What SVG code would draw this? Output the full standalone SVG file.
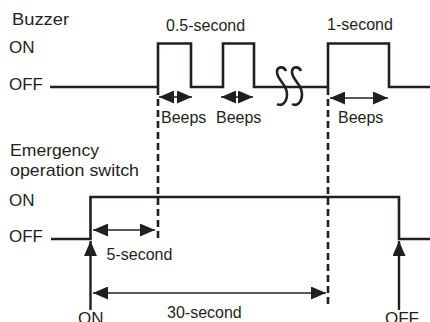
<svg xmlns="http://www.w3.org/2000/svg" width="430" height="322" viewBox="0 0 430 322">
<style>
text{font-family:"Liberation Sans",Arial,sans-serif;fill:#231f20}
.lab{font-size:17px}
.sm{font-size:16px}
.sig{fill:none;stroke:#231f20;stroke-width:2.6}
.dash{fill:none;stroke:#231f20;stroke-width:2.6;stroke-dasharray:7,4}
.thin{fill:none;stroke:#231f20;stroke-width:1.3}
.thick{fill:none;stroke:#231f20;stroke-width:2.4}
</style>
<defs>
<marker id="ah" viewBox="0 0 15 13" refX="15" refY="6.5" markerWidth="15" markerHeight="13" markerUnits="userSpaceOnUse" orient="auto-start-reverse">
<path d="M0,0 L15,6.5 L0,13 Z" fill="#231f20"/>
</marker>
</defs>
<rect width="430" height="322" fill="#fff"/>
<g id="buzzer">
<text class="lab" x="12" y="25" textLength="57" lengthAdjust="spacingAndGlyphs">Buzzer</text>
<text class="lab" x="9" y="53">ON</text>
<text class="lab" x="9" y="90">OFF</text>
<path class="sig" d="M50,87 H158 V43.5 H191 V87 H223 V43.5 H254 V87 H328 V43.5 H389 V87 H430"/>
<path class="sig" d="M286,71 C284,66 277,66 277,72 C277,80 287,84 287,94 C287,102 282,107 277,104"/>
<path class="sig" d="M301,71 C299,66 292,66 292,72 C292,80 302,84 302,94 C302,102 297,107 292,104"/>
<text class="sm" x="166" y="31">0.5-second</text>
<text class="sm" x="327" y="30">1-second</text>
<text class="sm" x="161" y="123">Beeps</text>
<text class="sm" x="216" y="123">Beeps</text>
<text class="sm" x="338" y="123">Beeps</text>
</g>
<g id="switch">
<text class="lab" x="10" y="156" textLength="89" lengthAdjust="spacingAndGlyphs">Emergency</text>
<text class="lab" x="10" y="175.5" textLength="129" lengthAdjust="spacingAndGlyphs">operation switch</text>
<text class="lab" x="9" y="206">ON</text>
<text class="lab" x="9" y="241.5">OFF</text>
<path class="sig" d="M51,239 H90.5 V197 H399 V239 H430"/>
<text class="sm" x="106.5" y="260">5-second</text>
<text class="sm" x="167" y="318">30-second</text>
<text class="lab" x="78" y="324">ON</text>
<text class="lab" x="385" y="324">OFF</text>
</g>
<g id="connectors">
<path class="dash" d="M158,88 V240"/>
<path class="dash" d="M328,88 V305"/>
<path class="thin" d="M159,97 H175 M175,97 H192" marker-start="url(#ah)" marker-end="url(#ah)"/>
<path class="thin" d="M221,97 H237 M237,97 H253" marker-start="url(#ah)" marker-end="url(#ah)"/>
<path class="thin" d="M330,98 H388" marker-start="url(#ah)" marker-end="url(#ah)"/>
<path class="thin" d="M93,230 H155" marker-start="url(#ah)" marker-end="url(#ah)"/>
<path class="thin" d="M93,293 H326" marker-start="url(#ah)" marker-end="url(#ah)"/>
<path class="thick" d="M90.5,310 V241" marker-end="url(#ah)"/>
<path class="thick" d="M399,310 V241" marker-end="url(#ah)"/>
</g>
</svg>
